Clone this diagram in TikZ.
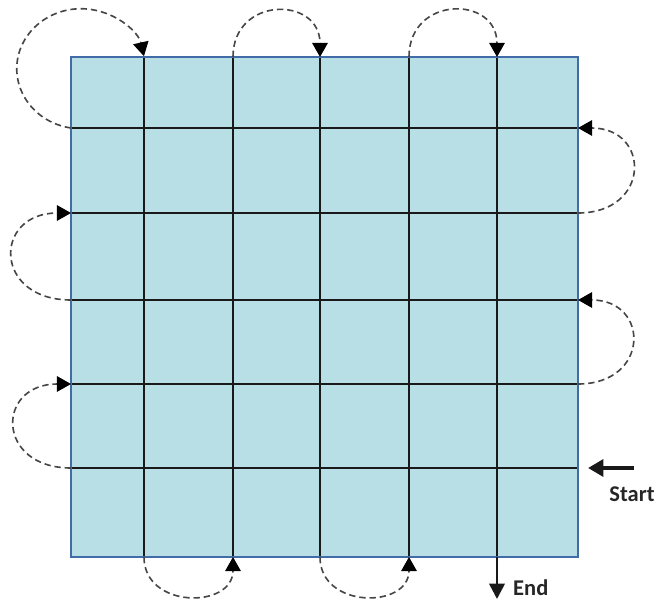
\documentclass[tikz,border=0pt]{standalone}
\usepackage{fontspec}
\setmainfont{Carlito}
\usepackage{tikz}
\usetikzlibrary{arrows.meta}
\definecolor{cellblue}{RGB}{184,222,230}
\definecolor{edgeblue}{RGB}{66,108,168}
\definecolor{hopgray}{RGB}{70,70,70}

\begin{document}
\begin{tikzpicture}[x=0.025cm, y=0.025cm,
    every node/.style={font=\fontsize{16}{18}\selectfont\bfseries, text=black!85},
    gridline/.style={line width=1.9pt, black!90},
    hop/.style={hopgray, line width=1.15pt, dash pattern=on 4.5pt off 2.8pt,
      -{Triangle[length=10pt, width=11pt, black]}}]
        \useasboundingbox (0,0) rectangle (667,600);

        % board
        \fill[cellblue] (71,43) rectangle (578,543);

        % rows, bottom to top
        \foreach \y [count=\i] in {132,216,300,387,472} {
          \coordinate (w\i) at (71,\y);
          \coordinate (e\i) at (578,\y);
          \draw[gridline] (w\i) -- (e\i);
        }

        % columns, left to right
        \foreach \x [count=\j] in {144,233,320,409,497} {
          \coordinate (s\j) at (\x,43);
          \coordinate (n\j) at (\x,543);
          \draw[gridline] (s\j) -- (n\j);
        }

        \draw[edgeblue, line width=1.4pt] (71,43) rectangle (578,543);

        % side hops
        \draw[hop] (w1) to[out=180, in=180, looseness=2.3] (w2);
        \draw[hop] (e2) to[out=0, in=0, looseness=2.2] (e3);
        \draw[hop] (w3) to[out=180, in=180, looseness=2.3] (w4);
        \draw[hop] (e4) to[out=0, in=0, looseness=2.2] (e5);
        \draw[hop] (w5) arc[start angle=-99, end angle=-348, x radius=64.3, y radius=60];

        % top and bottom hops
        \draw[hop] (s1) to[out=-90, in=-90, looseness=1.5] (s2);
        \draw[hop] (n2) to[out=90, in=90, looseness=1.8] (n3);
        \draw[hop] (s3) to[out=-90, in=-90, looseness=1.5] (s4);
        \draw[hop] (n4) to[out=90, in=90, looseness=1.8] (n5);

        % start and end
        \coordinate (go) at (634,132);
        \coordinate (gotip) at (588,132);
        \draw[line width=3pt, black!90, -{Triangle[length=11pt, width=12pt]}] (go) -- (gotip);
        \node (start) at (632,106) {Start};

        \coordinate (stop) at (497,1);
        \draw[gridline, -{Triangle[length=11pt, width=11pt]}] (s5) -- (stop);
        \node[right=8pt] (end) at (497,12) {End};
      \end{tikzpicture}
\end{document}
